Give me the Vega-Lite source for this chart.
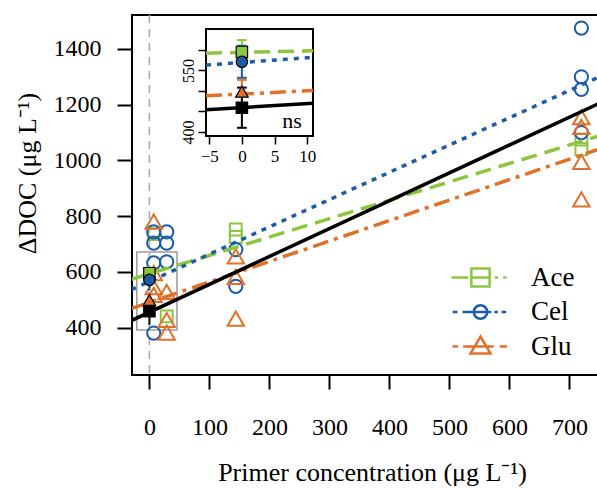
{
  "$schema": "https://vega.github.io/schema/vega-lite/v6.json",
  "width": 466,
  "height": 360,
  "autosize": {"type": "none"},
  "padding": {"left": 132, "top": 15, "right": 0, "bottom": 114},
  "config": {
    "font": "Liberation Serif",
    "view": {"stroke": "black", "strokeWidth": 2},
    "axis": {"grid": false, "domain": false, "tickColor": "black", "labelColor": "black", "titleColor": "black", "titleFontWeight": "normal"}
  },
  "datasets": {
    "pts": [
      {"series": "Ace", "conc": 7.2, "doc": 735}, {"series": "Ace", "conc": 28.8, "doc": 440},
      {"series": "Ace", "conc": 144, "doc": 752}, {"series": "Ace", "conc": 144, "doc": 725},
      {"series": "Ace", "conc": 720, "doc": 1075}, {"series": "Ace", "conc": 720, "doc": 1040},
      {"series": "Cel", "conc": 7.2, "doc": 743}, {"series": "Cel", "conc": 7.2, "doc": 703},
      {"series": "Cel", "conc": 7.2, "doc": 632}, {"series": "Cel", "conc": 7.2, "doc": 380},
      {"series": "Cel", "conc": 28.8, "doc": 743}, {"series": "Cel", "conc": 28.8, "doc": 703},
      {"series": "Cel", "conc": 28.8, "doc": 636}, {"series": "Cel", "conc": 144, "doc": 680},
      {"series": "Cel", "conc": 144, "doc": 548}, {"series": "Cel", "conc": 720, "doc": 1475},
      {"series": "Cel", "conc": 720, "doc": 1300}, {"series": "Cel", "conc": 720, "doc": 1255},
      {"series": "Cel", "conc": 720, "doc": 1100},
      {"series": "Glu", "conc": 7.2, "doc": 780}, {"series": "Glu", "conc": 7.2, "doc": 595},
      {"series": "Glu", "conc": 7.2, "doc": 545}, {"series": "Glu", "conc": 7.2, "doc": 517},
      {"series": "Glu", "conc": 28.8, "doc": 528}, {"series": "Glu", "conc": 28.8, "doc": 427},
      {"series": "Glu", "conc": 28.8, "doc": 382}, {"series": "Glu", "conc": 144, "doc": 655},
      {"series": "Glu", "conc": 144, "doc": 582}, {"series": "Glu", "conc": 144, "doc": 432},
      {"series": "Glu", "conc": 720, "doc": 1155}, {"series": "Glu", "conc": 720, "doc": 1120},
      {"series": "Glu", "conc": 720, "doc": 995}, {"series": "Glu", "conc": 720, "doc": 860}
    ],
    "lines": [
      {"series": "Ace", "conc": -30, "doc": 573}, {"series": "Ace", "conc": 750, "doc": 1088},
      {"series": "Cel", "conc": -30, "doc": 536}, {"series": "Cel", "conc": 750, "doc": 1300},
      {"series": "Glu", "conc": -30, "doc": 468}, {"series": "Glu", "conc": 750, "doc": 1041},
      {"series": "Control", "conc": -30, "doc": 425}, {"series": "Control", "conc": 750, "doc": 1205}
    ],
    "inlines": [
      {"series": "Ace", "conc": -5.5, "doc": 592}, {"series": "Ace", "conc": 10.9, "doc": 598},
      {"series": "Cel", "conc": -5.5, "doc": 563}, {"series": "Cel", "conc": 10.9, "doc": 582},
      {"series": "Glu", "conc": -5.5, "doc": 488}, {"series": "Glu", "conc": 10.9, "doc": 501},
      {"series": "Control", "conc": -5.5, "doc": 454}, {"series": "Control", "conc": 10.9, "doc": 470}
    ],
    "means": [
      {"series": "Ace", "conc": 0, "doc": 595, "lo": 566, "hi": 624},
      {"series": "Cel", "conc": 0, "doc": 571, "lo": 532, "hi": 610},
      {"series": "Glu", "conc": 0, "doc": 498, "lo": 469, "hi": 527},
      {"series": "Control", "conc": 0, "doc": 459, "lo": 410, "hi": 508}
    ]
  },
  "layer": [
    {
      "layer": [
        {
          "data": {"values": [{}]},
          "mark": {"type": "rule", "color": "#aaaaaa", "strokeDash": [8, 6], "strokeWidth": 1.5},
          "encoding": {
            "x": {"datum": 0, "type": "quantitative", "scale": {"domain": [-29, 747.7], "nice": false, "zero": false},
              "axis": {"orient": "bottom", "values": [0, 100, 200, 300, 400, 500, 600, 700], "format": "d", "tickSize": 14, "tickWidth": 2, "labelFontSize": 24, "labelPadding": 26,
                "title": "Primer concentration (μg L⁻¹)", "titleFontSize": 26, "titleX": 240, "titleY": 97, "titleBaseline": "middle", "titleAlign": "center"}}
          }
        },
        {
          "data": {"values": [{}]},
          "mark": {"type": "rect", "fill": "transparent", "stroke": "#9a9a9a", "strokeWidth": 1.5},
          "encoding": {
            "x": {"datum": -21, "type": "quantitative", "scale": {"domain": [-29, 747.7], "nice": false, "zero": false}},
            "x2": {"datum": 46},
            "y": {"datum": 391, "type": "quantitative", "scale": {"domain": [229.5, 1522], "nice": false, "zero": false},
              "axis": {"orient": "left", "values": [400, 600, 800, 1000, 1200, 1400], "format": "d", "tickSize": 15, "tickWidth": 2, "labelFontSize": 24, "labelPadding": 16,
                "title": "ΔDOC (μg L⁻¹)", "titleFontSize": 26, "titleX": -105, "titleY": 158, "titleAngle": 270, "titleBaseline": "middle", "titleAlign": "center"}},
            "y2": {"datum": 671}
          }
        },
        {
          "data": {"name": "pts"},
          "transform": [{"filter": "datum.series === 'Ace'"}],
          "mark": {"type": "point", "shape": "square", "size": 140, "filled": false, "strokeWidth": 2, "opacity": 1, "color": "#8cc63f", "clip": true},
          "encoding": {
            "x": {"field": "conc", "type": "quantitative", "scale": {"domain": [-29, 747.7], "nice": false, "zero": false}},
            "y": {"field": "doc", "type": "quantitative", "scale": {"domain": [229.5, 1522], "nice": false, "zero": false}}
          }
        },
        {
          "data": {"name": "pts"},
          "transform": [{"filter": "datum.series === 'Cel'"}],
          "mark": {"type": "point", "shape": "circle", "size": 175, "filled": false, "strokeWidth": 2, "opacity": 1, "color": "#1f5ca8", "clip": true},
          "encoding": {
            "x": {"field": "conc", "type": "quantitative", "scale": {"domain": [-29, 747.7], "nice": false, "zero": false}},
            "y": {"field": "doc", "type": "quantitative", "scale": {"domain": [229.5, 1522], "nice": false, "zero": false}}
          }
        },
        {
          "data": {"name": "pts"},
          "transform": [{"filter": "datum.series === 'Glu'"}],
          "mark": {"type": "point", "shape": "triangle-up", "size": 270, "filled": false, "strokeWidth": 2, "opacity": 1, "color": "#e0702a", "clip": true},
          "encoding": {
            "x": {"field": "conc", "type": "quantitative", "scale": {"domain": [-29, 747.7], "nice": false, "zero": false}},
            "y": {"field": "doc", "type": "quantitative", "scale": {"domain": [229.5, 1522], "nice": false, "zero": false}}
          }
        },
        {
          "data": {"name": "lines"},
          "transform": [{"filter": "datum.series === 'Ace'"}],
          "mark": {"type": "line", "strokeWidth": 3.5, "color": "#8cc63f", "strokeDash": [16, 8], "clip": true},
          "encoding": {
            "x": {"field": "conc", "type": "quantitative", "scale": {"domain": [-29, 747.7], "nice": false, "zero": false}},
            "y": {"field": "doc", "type": "quantitative", "scale": {"domain": [229.5, 1522], "nice": false, "zero": false}}
          }
        },
        {
          "data": {"name": "lines"},
          "transform": [{"filter": "datum.series === 'Cel'"}],
          "mark": {"type": "line", "strokeWidth": 3.5, "color": "#1f5ca8", "strokeDash": [5, 6], "clip": true},
          "encoding": {
            "x": {"field": "conc", "type": "quantitative", "scale": {"domain": [-29, 747.7], "nice": false, "zero": false}},
            "y": {"field": "doc", "type": "quantitative", "scale": {"domain": [229.5, 1522], "nice": false, "zero": false}}
          }
        },
        {
          "data": {"name": "lines"},
          "transform": [{"filter": "datum.series === 'Glu'"}],
          "mark": {"type": "line", "strokeWidth": 3.5, "color": "#e0702a", "strokeDash": [16, 6, 4, 6], "clip": true},
          "encoding": {
            "x": {"field": "conc", "type": "quantitative", "scale": {"domain": [-29, 747.7], "nice": false, "zero": false}},
            "y": {"field": "doc", "type": "quantitative", "scale": {"domain": [229.5, 1522], "nice": false, "zero": false}}
          }
        },
        {
          "data": {"name": "lines"},
          "transform": [{"filter": "datum.series === 'Control'"}],
          "mark": {"type": "line", "strokeWidth": 3.5, "color": "#000000", "clip": true},
          "encoding": {
            "x": {"field": "conc", "type": "quantitative", "scale": {"domain": [-29, 747.7], "nice": false, "zero": false}},
            "y": {"field": "doc", "type": "quantitative", "scale": {"domain": [229.5, 1522], "nice": false, "zero": false}}
          }
        },
        {
          "data": {"name": "means"},
          "mark": {"type": "rule", "strokeWidth": 2},
          "encoding": {
            "x": {"field": "conc", "type": "quantitative", "scale": {"domain": [-29, 747.7], "nice": false, "zero": false}},
            "y": {"field": "lo", "type": "quantitative", "scale": {"domain": [229.5, 1522], "nice": false, "zero": false}},
            "y2": {"field": "hi"},
            "color": {"field": "series", "type": "nominal",
              "scale": {"domain": ["Ace", "Cel", "Glu", "Control"], "range": ["#8cc63f", "#1f5ca8", "#e0702a", "#000000"]},
              "legend": {
                "values": ["Ace", "Cel", "Glu"], "orient": "none", "legendX": 335, "legendY": 249, "title": null, "padding": 0,
                "symbolType": {"expr": "datum.value === 'Ace' ? 'M-2.42,0H-1.03M-0.76,-0.76H0.76V0.76H-0.76ZM-0.76,0H0.76M1.19,0H1.47M1.89,0H2.17' : datum.value === 'Cel' ? 'M-2.33,0H-1.92M-1.5,0H-0.56M-0.56,0A0.56,0.56 0 1,0 0.56,0A0.56,0.56 0 1,0 -0.56,0ZM-0.56,0H0.56M0.56,0H0.9M1.15,0H1.45M1.75,0H2.15' : 'M-2.33,0H-1.85M-1.45,0H1.1M0,-0.83L-0.83,0.58H0.83ZM1.6,0H2.2'"},
                "symbolFillColor": "transparent", "symbolDash": [], "symbolOpacity": 1,
                "symbolSize": 576, "symbolStrokeWidth": 2.5, "labelFontSize": 27, "labelOffset": 37, "rowPadding": 5.5, "labelColor": "black"
              }}
          }
        },
        {
          "data": {"name": "means"},
          "transform": [{"filter": "datum.series === 'Ace'"}],
          "mark": {"type": "point", "shape": "square", "filled": true, "fill": "#8cc63f", "stroke": "black", "strokeWidth": 1.2, "size": 130, "opacity": 1},
          "encoding": {
            "x": {"field": "conc", "type": "quantitative", "scale": {"domain": [-29, 747.7], "nice": false, "zero": false}},
            "y": {"field": "doc", "type": "quantitative", "scale": {"domain": [229.5, 1522], "nice": false, "zero": false}}
          }
        },
        {
          "data": {"name": "means"},
          "transform": [{"filter": "datum.series === 'Cel'"}],
          "mark": {"type": "point", "shape": "circle", "filled": true, "fill": "#1f5ca8", "stroke": "black", "strokeWidth": 1.2, "size": 130, "opacity": 1},
          "encoding": {
            "x": {"field": "conc", "type": "quantitative", "scale": {"domain": [-29, 747.7], "nice": false, "zero": false}},
            "y": {"field": "doc", "type": "quantitative", "scale": {"domain": [229.5, 1522], "nice": false, "zero": false}}
          }
        },
        {
          "data": {"name": "means"},
          "transform": [{"filter": "datum.series === 'Glu'"}],
          "mark": {"type": "point", "shape": "triangle-up", "filled": true, "fill": "#e0702a", "stroke": "black", "strokeWidth": 1.2, "size": 160, "opacity": 1},
          "encoding": {
            "x": {"field": "conc", "type": "quantitative", "scale": {"domain": [-29, 747.7], "nice": false, "zero": false}},
            "y": {"field": "doc", "type": "quantitative", "scale": {"domain": [229.5, 1522], "nice": false, "zero": false}}
          }
        },
        {
          "data": {"name": "means"},
          "transform": [{"filter": "datum.series === 'Control'"}],
          "mark": {"type": "point", "shape": "square", "filled": true, "fill": "#000000", "stroke": "black", "strokeWidth": 1.2, "size": 130, "opacity": 1},
          "encoding": {
            "x": {"field": "conc", "type": "quantitative", "scale": {"domain": [-29, 747.7], "nice": false, "zero": false}},
            "y": {"field": "doc", "type": "quantitative", "scale": {"domain": [229.5, 1522], "nice": false, "zero": false}}
          }
        }
      ]
    },
    {
      "layer": [
        {
          "data": {"values": [{}]},
          "mark": {"type": "rect", "fill": "white", "stroke": "black", "strokeWidth": 2},
          "encoding": {
            "x": {"datum": -5.5, "type": "quantitative", "scale": {"domain": [-5.5, 10.9], "nice": false, "zero": false, "range": [74, 181]},
              "axis": {"orient": "bottom", "offset": -239, "values": [-5, 0, 5, 10], "tickSize": 8, "tickWidth": 1.5, "labelFontSize": 17, "labelPadding": 4, "title": null}},
            "x2": {"datum": 10.9},
            "y": {"datum": 390, "type": "quantitative", "scale": {"domain": [390, 651], "nice": false, "zero": false, "range": [121, 14]},
              "axis": {"orient": "left", "offset": -74, "values": [400, 450, 500, 550, 600], "tickSize": 8, "tickWidth": 1.5, "labelFontSize": 16, "labelPadding": 2,
                "labelAngle": 270, "labelAlign": "center", "labelBaseline": "bottom", "labelExpr": "datum.value == 400 || datum.value == 550 ? datum.label : ''", "title": null}},
            "y2": {"datum": 651}
          }
        },
        {
          "data": {"name": "inlines"},
          "transform": [{"filter": "datum.series === 'Ace'"}],
          "mark": {"type": "line", "strokeWidth": 3.5, "color": "#8cc63f", "strokeDash": [16, 8]},
          "encoding": {
            "x": {"field": "conc", "type": "quantitative", "scale": {"domain": [-5.5, 10.9], "nice": false, "zero": false, "range": [74, 181]}},
            "y": {"field": "doc", "type": "quantitative", "scale": {"domain": [390, 651], "nice": false, "zero": false, "range": [121, 14]}}
          }
        },
        {
          "data": {"name": "inlines"},
          "transform": [{"filter": "datum.series === 'Cel'"}],
          "mark": {"type": "line", "strokeWidth": 3.5, "color": "#1f5ca8", "strokeDash": [5, 6]},
          "encoding": {
            "x": {"field": "conc", "type": "quantitative", "scale": {"domain": [-5.5, 10.9], "nice": false, "zero": false, "range": [74, 181]}},
            "y": {"field": "doc", "type": "quantitative", "scale": {"domain": [390, 651], "nice": false, "zero": false, "range": [121, 14]}}
          }
        },
        {
          "data": {"name": "inlines"},
          "transform": [{"filter": "datum.series === 'Glu'"}],
          "mark": {"type": "line", "strokeWidth": 3.5, "color": "#e0702a", "strokeDash": [16, 6, 4, 6]},
          "encoding": {
            "x": {"field": "conc", "type": "quantitative", "scale": {"domain": [-5.5, 10.9], "nice": false, "zero": false, "range": [74, 181]}},
            "y": {"field": "doc", "type": "quantitative", "scale": {"domain": [390, 651], "nice": false, "zero": false, "range": [121, 14]}}
          }
        },
        {
          "data": {"name": "inlines"},
          "transform": [{"filter": "datum.series === 'Control'"}],
          "mark": {"type": "line", "strokeWidth": 3.5, "color": "#000000"},
          "encoding": {
            "x": {"field": "conc", "type": "quantitative", "scale": {"domain": [-5.5, 10.9], "nice": false, "zero": false, "range": [74, 181]}},
            "y": {"field": "doc", "type": "quantitative", "scale": {"domain": [390, 651], "nice": false, "zero": false, "range": [121, 14]}}
          }
        },
        {
          "data": {"name": "means"},
          "mark": {"type": "rule", "strokeWidth": 2},
          "encoding": {
            "x": {"field": "conc", "type": "quantitative", "scale": {"domain": [-5.5, 10.9], "nice": false, "zero": false, "range": [74, 181]}},
            "y": {"field": "lo", "type": "quantitative", "scale": {"domain": [390, 651], "nice": false, "zero": false, "range": [121, 14]}},
            "y2": {"field": "hi"},
            "color": {"field": "series", "type": "nominal",
              "scale": {"domain": ["Ace", "Cel", "Glu", "Control"], "range": ["#8cc63f", "#1f5ca8", "#e0702a", "#000000"]}, "legend": null}
          }
        },
        {
          "data": {"name": "means"},
          "mark": {"type": "rule", "strokeWidth": 2},
          "encoding": {
            "x": {"datum": -0.75, "type": "quantitative", "scale": {"domain": [-5.5, 10.9], "nice": false, "zero": false, "range": [74, 181]}},
            "x2": {"datum": 0.75},
            "y": {"field": "lo", "type": "quantitative", "scale": {"domain": [390, 651], "nice": false, "zero": false, "range": [121, 14]}},
            "color": {"field": "series", "type": "nominal",
              "scale": {"domain": ["Ace", "Cel", "Glu", "Control"], "range": ["#8cc63f", "#1f5ca8", "#e0702a", "#000000"]}, "legend": null}
          }
        },
        {
          "data": {"name": "means"},
          "mark": {"type": "rule", "strokeWidth": 2},
          "encoding": {
            "x": {"datum": -0.75, "type": "quantitative", "scale": {"domain": [-5.5, 10.9], "nice": false, "zero": false, "range": [74, 181]}},
            "x2": {"datum": 0.75},
            "y": {"field": "hi", "type": "quantitative", "scale": {"domain": [390, 651], "nice": false, "zero": false, "range": [121, 14]}},
            "color": {"field": "series", "type": "nominal",
              "scale": {"domain": ["Ace", "Cel", "Glu", "Control"], "range": ["#8cc63f", "#1f5ca8", "#e0702a", "#000000"]}, "legend": null}
          }
        },
        {
          "data": {"name": "means"},
          "transform": [{"filter": "datum.series === 'Ace'"}],
          "mark": {"type": "point", "shape": "square", "filled": true, "fill": "#8cc63f", "stroke": "black", "strokeWidth": 1.2, "size": 130, "opacity": 1},
          "encoding": {
            "x": {"field": "conc", "type": "quantitative", "scale": {"domain": [-5.5, 10.9], "nice": false, "zero": false, "range": [74, 181]}},
            "y": {"field": "doc", "type": "quantitative", "scale": {"domain": [390, 651], "nice": false, "zero": false, "range": [121, 14]}}
          }
        },
        {
          "data": {"name": "means"},
          "transform": [{"filter": "datum.series === 'Cel'"}],
          "mark": {"type": "point", "shape": "circle", "filled": true, "fill": "#1f5ca8", "stroke": "black", "strokeWidth": 1.2, "size": 130, "opacity": 1},
          "encoding": {
            "x": {"field": "conc", "type": "quantitative", "scale": {"domain": [-5.5, 10.9], "nice": false, "zero": false, "range": [74, 181]}},
            "y": {"field": "doc", "type": "quantitative", "scale": {"domain": [390, 651], "nice": false, "zero": false, "range": [121, 14]}}
          }
        },
        {
          "data": {"name": "means"},
          "transform": [{"filter": "datum.series === 'Glu'"}],
          "mark": {"type": "point", "shape": "triangle-up", "filled": true, "fill": "#e0702a", "stroke": "black", "strokeWidth": 1.2, "size": 160, "opacity": 1},
          "encoding": {
            "x": {"field": "conc", "type": "quantitative", "scale": {"domain": [-5.5, 10.9], "nice": false, "zero": false, "range": [74, 181]}},
            "y": {"field": "doc", "type": "quantitative", "scale": {"domain": [390, 651], "nice": false, "zero": false, "range": [121, 14]}}
          }
        },
        {
          "data": {"name": "means"},
          "transform": [{"filter": "datum.series === 'Control'"}],
          "mark": {"type": "point", "shape": "square", "filled": true, "fill": "#000000", "stroke": "black", "strokeWidth": 1.2, "size": 130, "opacity": 1},
          "encoding": {
            "x": {"field": "conc", "type": "quantitative", "scale": {"domain": [-5.5, 10.9], "nice": false, "zero": false, "range": [74, 181]}},
            "y": {"field": "doc", "type": "quantitative", "scale": {"domain": [390, 651], "nice": false, "zero": false, "range": [121, 14]}}
          }
        },
        {
          "data": {"values": [{}]},
          "mark": {"type": "text", "text": "ns", "fontSize": 22, "align": "center", "baseline": "alphabetic", "color": "black"},
          "encoding": {
            "x": {"datum": 7.7, "type": "quantitative", "scale": {"domain": [-5.5, 10.9], "nice": false, "zero": false, "range": [74, 181]}},
            "y": {"datum": 410, "type": "quantitative", "scale": {"domain": [390, 651], "nice": false, "zero": false, "range": [121, 14]}}
          }
        }
      ]
    }
  ],
  "resolve": {"scale": {"x": "independent", "y": "independent"}, "axis": {"x": "independent", "y": "independent"}}
}
